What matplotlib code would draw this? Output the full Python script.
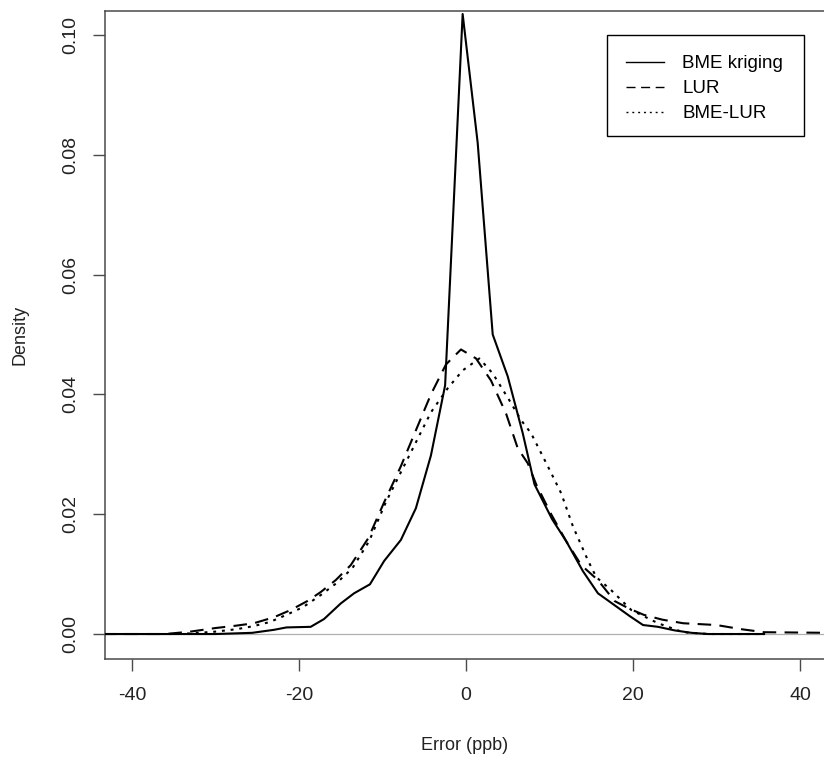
"""
Density of prediction errors: BME kriging vs LUR vs BME-LUR
"""

import matplotlib
matplotlib.use("Agg")
import matplotlib.pyplot as plt
from matplotlib.patches import Rectangle

# ── DATA ──────────────────────────────────────────────────────────────────────

bme_x = [-43.5, -30.0, -25.6, -23.0, -21.5, -18.6, -17.0, -15.0, -13.4, -11.5,
         -9.8, -7.8, -6.0, -4.2, -2.5, -0.4, 1.4, 3.2, 5.0, 6.8,
         8.2, 10.3, 12.0, 14.0, 15.8, 17.8, 19.6, 21.2, 23.0, 25.0,
         27.0, 29.0, 35.7]
bme_y = [0.0, 0.0, 0.0002, 0.0007, 0.0011, 0.0012, 0.0025, 0.0051, 0.0068, 0.0083,
         0.0122, 0.0157, 0.0210, 0.0298, 0.0415, 0.1035, 0.0820, 0.0500, 0.0430, 0.0335,
         0.0250, 0.0192, 0.0155, 0.0105, 0.0068, 0.0048, 0.0030, 0.0015, 0.0012, 0.0006,
         0.0002, 0.0, 0.0]

lur_x = [-43.5, -36.0, -33.0, -30.0, -27.5, -25.4, -23.0, -21.0, -19.0, -17.4,
         -15.6, -13.8, -11.7, -9.8, -7.8, -6.0, -4.2, -2.4, -0.6, 1.2,
         3.0, 4.8, 6.2, 7.4, 8.4, 10.2, 12.0, 13.8, 15.8, 17.8,
         19.6, 21.3, 23.5, 26.0, 30.0, 33.0, 35.7, 43.5]
lur_y = [0.0, 0.0, 0.0004, 0.0010, 0.0014, 0.0018, 0.0028, 0.0040, 0.0055, 0.0070,
         0.0090, 0.0115, 0.0160, 0.0220, 0.0280, 0.0340, 0.0400, 0.0450, 0.0475, 0.0460,
         0.0423, 0.0368, 0.0310, 0.0285, 0.0250, 0.0200, 0.0155, 0.0115, 0.0090, 0.0055,
         0.0042, 0.0032, 0.0024, 0.0018, 0.0015, 0.0008, 0.0003, 0.0002]

bmelur_x = [-35.5, -33.0, -30.0, -27.5, -25.5, -23.5, -21.5, -19.5, -17.4, -15.5,
            -13.6, -11.6, -9.6, -7.8, -6.0, -4.2, -2.2, -0.4, 1.6, 3.2,
            5.2, 6.6, 7.8, 9.8, 11.4, 12.8, 14.6, 15.6, 17.4, 19.8,
            23.0, 26.0, 29.0, 35.7]
bmelur_y = [0.0, 0.0001, 0.0004, 0.0008, 0.0013, 0.0020, 0.0032, 0.0045, 0.0065, 0.0085,
            0.0110, 0.0155, 0.0220, 0.0270, 0.0320, 0.0370, 0.0410, 0.0440, 0.0460, 0.0435,
            0.0390, 0.0357, 0.0335, 0.0280, 0.0235, 0.0180, 0.0123, 0.0095, 0.0073, 0.0040,
            0.0018, 0.0003, 0.0, 0.0]

labels = ["BME kriging", "LUR", "BME-LUR"]
xticks = [-40, -20, 0, 20, 40]
yticks = [0.00, 0.02, 0.04, 0.06, 0.08, 0.10]

# ── PLOT ──────────────────────────────────────────────────────────────────────

plt.rcParams['font.family'] = ['Liberation Sans', 'DejaVu Sans']

W, H = 824, 761
fig = plt.figure(figsize=(W / 100, H / 100), dpi=100)

# axes in pixel terms: left 105, top 11, bottom 659, right runs off the canvas
left_px, right_px, top_px, bot_px = 105, 840, 11, 659
ax_w, ax_h = right_px - left_px, bot_px - top_px
ax = fig.add_axes([left_px / W, 1 - bot_px / H, ax_w / W, ax_h / H])

ax.axhline(0, color='#b0b0b0', linewidth=0.9, zorder=1)

lw = 1.5
ax.plot(bme_x, bme_y, color='black', linewidth=lw, label=labels[0], zorder=3)
ax.plot(lur_x, lur_y, color='black', linewidth=lw, linestyle=(0, (6.5, 4.0)),
        label=labels[1], zorder=3)
ax.plot(bmelur_x, bmelur_y, color='black', linewidth=lw, linestyle=(0, (1.4, 2.8)),
        label=labels[2], zorder=3)

ax.set_xlim(-43.23, 44.79)
ax.set_ylim(-0.00417, 0.104)

ax.set_xticks(xticks)
ax.set_xticklabels([str(t) for t in xticks])
ax.set_yticks(yticks)
ax.set_yticklabels([f"{t:.2f}" for t in yticks], rotation=90, va='center')

frame_col = '#4a4a4a'
for s in ax.spines.values():
    s.set_color(frame_col)
    s.set_linewidth(1.1)
ax.tick_params(axis='both', direction='out', length=8.5, width=1.0,
               color=frame_col, labelsize=14, labelcolor='#222222')
ax.tick_params(axis='x', pad=12)
ax.tick_params(axis='y', pad=10)

fig.text(20 / W, 1 - 335 / H, "Density", rotation=90, ha='center', va='center',
         fontsize=13, color='#222222')
fig.text(465 / W, 1 - 745 / H, "Error (ppb)", ha='center', va='center',
         fontsize=13, color='#222222')

# legend: entries without frame, box drawn separately (R-style spacing)
leg = ax.legend(loc='upper left',
                bbox_to_anchor=((626 - left_px) / ax_w, (bot_px - 55) / ax_h),
                borderaxespad=0, borderpad=0, frameon=False, fontsize=13.5,
                handlelength=2.05, handletextpad=0.95, labelspacing=0.42)
for line in leg.get_lines():
    line.set_linewidth(1.0)

ax.add_patch(Rectangle(((607 - left_px) / ax_w, (bot_px - 136) / ax_h),
                       (804 - 607) / ax_w, (136 - 35) / ax_h,
                       transform=ax.transAxes, fill=False, edgecolor='black',
                       linewidth=1.0, zorder=5))

fig.savefig("out.png", dpi=100)
